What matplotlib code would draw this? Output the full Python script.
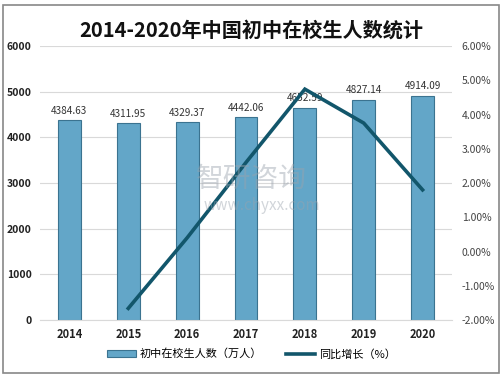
import matplotlib
matplotlib.use("Agg")
import matplotlib.pyplot as plt
from matplotlib.patches import Rectangle
from matplotlib.lines import Line2D
import numpy as np

plt.rcParams['font.family'] = ['Noto Sans CJK SC', 'DejaVu Sans']

years = ['2014', '2015', '2016', '2017', '2018', '2019', '2020']
students = [4384.63, 4311.95, 4329.37, 4442.06, 4652.59, 4827.14, 4914.09]
growth_years = ['2015', '2016', '2017', '2018', '2019', '2020']
growth = [-1.66, 0.40, 2.60, 4.74, 3.75, 1.80]

W, H = 503, 377
fig = plt.figure(figsize=(W / 100, H / 100), dpi=100)
fig.patch.set_facecolor('white')
# outer border
fig.add_artist(Rectangle((3 / W, 4 / H), (W - 7) / W, (H - 9) / H, transform=fig.transFigure,
                         fill=False, edgecolor='#888888', linewidth=1.2))

ax = fig.add_axes([40 / W, 1 - 320 / H, 412 / W, 274 / H])
x = np.arange(len(years))
bars = ax.bar(x, students, width=0.39, color='#63a6c8', edgecolor='#3b7390', linewidth=0.8, zorder=2)
for xi, v in zip(x, students):
    ax.text(xi, v + 90, f'{v:.2f}', ha='center', va='bottom', fontsize=7.2, color='#333333', zorder=5)

ax.set_xlim(-0.5, len(years) - 0.5)
ax.set_ylim(0, 6000)
ax.set_yticks(range(0, 6001, 1000))
ax.grid(axis='y', color='#d9d9d9', linewidth=0.8, zorder=0)
ax.set_xticks(x)
ax.set_xticklabels(years, fontweight='bold', fontsize=8, color='#222222')
for s in ax.spines.values():
    s.set_visible(False)
ax.spines['bottom'].set_visible(True)
ax.spines['bottom'].set_color('#d9d9d9')
ax.tick_params(axis='both', length=0)
ax.tick_params(axis='x', pad=6)
ax.tick_params(axis='y', pad=6, labelsize=7.5, labelcolor='#222222')
for lab in ax.get_yticklabels():
    lab.set_fontweight('bold')

ax2 = ax.twinx()
gx = [years.index(g) for g in growth_years]
ax2.plot(gx, growth, color='#12566b', linewidth=2.6, zorder=4, solid_joinstyle='miter')
ax2.set_ylim(-2, 6)
ax2.set_yticks(np.arange(-2, 6.01, 1))
ax2.set_yticklabels([f'{v:.2f}%' for v in np.arange(-2, 6.01, 1)])
ax2.tick_params(axis='y', length=0, pad=7, labelsize=7.5, labelcolor='#444444')
for s in ax2.spines.values():
    s.set_visible(False)

# watermark
fig.text(0.5, 0.525, '智研咨询', ha='center', va='center', fontsize=20, color='#9aa3ad', alpha=0.45, zorder=10)
fig.text(0.52, 0.455, 'www.chyxx.com', ha='center', va='center', fontsize=11, color='#9aa3ad', alpha=0.45, zorder=10)

fig.text(0.5, 1 - 30 / H, '2014-2020年中国初中在校生人数统计', ha='center', va='center',
         fontsize=14.5, fontweight='bold', color='#111111')

handles = [Rectangle((0, 0), 1, 1, facecolor='#63a6c8', edgecolor='#3b7390', linewidth=0.8),
           Line2D([0], [0], color='#12566b', linewidth=2.6)]
fig.legend(handles, ['初中在校生人数（万人）', '同比增长（%）'], loc='center',
           bbox_to_anchor=(0.5, 1 - 354 / H), ncol=2, frameon=False, fontsize=8,
           handlelength=2.6, handleheight=0.5, columnspacing=2.2, handletextpad=0.3)

fig.savefig('out.png', dpi=100, facecolor='white')
